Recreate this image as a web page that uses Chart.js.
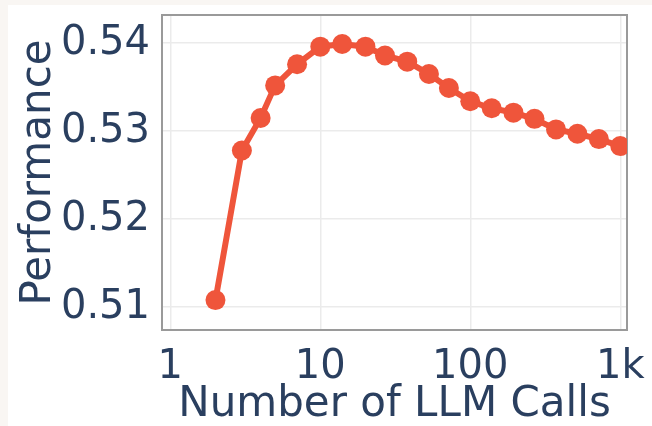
<!DOCTYPE html>
<html>
<head>
<meta charset="utf-8">
<script src="https://cdn.jsdelivr.net/npm/chart.js@4"></script>
<style>
  html, body { margin: 0; padding: 0; background: #f9f6f3; }
  #box { position: absolute; left: 8px; top: 5px; width: 644px; height: 421px; background: #fff; }
</style>
</head>
<body>
<div id="box"><canvas id="chart" width="644" height="421"></canvas></div>
<script>
// Data
const llmCalls = [2, 3, 4, 5, 7, 10, 14, 20, 27, 38, 53, 72, 100, 139, 194, 268, 373, 518, 720, 1000];
const performance = [0.5108, 0.5278, 0.5315, 0.5352, 0.5376, 0.5396, 0.5399, 0.5396, 0.5386, 0.5379,
  0.5365, 0.5349, 0.5334, 0.5326, 0.5321, 0.5314, 0.5302, 0.5297, 0.5291, 0.5283];
const xTicks = [1, 10, 100, 1000];
const xTickLabels = ['1', '10', '100', '1k'];
const yTicks = [0.51, 0.52, 0.53, 0.54];

const textColor = '#2a3f5f';
const fontFamily = '"DejaVu Sans", Verdana, sans-serif';

// Frame around the plot area
const framePlugin = {
  id: 'frame',
  beforeDatasetsDraw(chart) {
    const a = chart.chartArea;
    const c = chart.ctx;
    c.save();
    c.strokeStyle = '#9a9a9a';
    c.lineWidth = 2;
    c.strokeRect(a.left, a.top, a.right - a.left, a.bottom - a.top);
    c.restore();
  }
};

const ctx = document.getElementById('chart').getContext('2d');
const chart = new Chart(ctx, {
  type: 'line',
  data: {
    datasets: [{
      data: llmCalls.map((x, i) => ({ x: x, y: performance[i] })),
      borderColor: '#ef553b',
      backgroundColor: '#ef553b',
      borderWidth: 6,
      pointRadius: 10,
      pointHoverRadius: 10,
      pointBorderWidth: 0,
      tension: 0
    }]
  },
  options: {
    responsive: false,
    animation: false,
    layout: { padding: { left: 0, right: 25, top: 5, bottom: 0 } },
    plugins: { legend: { display: false }, tooltip: { enabled: false } },
    scales: {
      x: {
        type: 'logarithmic',
        min: 0.88,
        max: 1109,
        afterBuildTicks: (scale) => { scale.ticks = xTicks.map(v => ({ value: v })); },
        afterFit: (scale) => {
          scale.height = 96;
          scale.paddingLeft = 0;
          scale.paddingRight = 0;
        },
        ticks: {
          callback: (v) => xTickLabels[xTicks.indexOf(v)],
          color: textColor,
          font: { family: fontFamily, size: 40, lineHeight: 1.2 },
          padding: 14,
          maxRotation: 0,
          autoSkip: false
        },
        grid: { color: '#ebebeb', lineWidth: 1.5, drawTicks: false },
        border: { display: false },
        title: {
          display: true,
          text: 'Number of LLM Calls',
          color: textColor,
          font: { family: fontFamily, size: 42, lineHeight: 1 },
          padding: { top: 0, bottom: 0 }
        }
      },
      y: {
        min: 0.5074,
        max: 0.5432,
        afterBuildTicks: (scale) => { scale.ticks = yTicks.map(v => ({ value: v })); },
        afterFit: (scale) => {
          scale.width = 154;
          scale.paddingTop = 0;
          scale.paddingBottom = 0;
        },
        ticks: {
          callback: (v) => v.toFixed(2),
          color: textColor,
          font: { family: fontFamily, size: 40 },
          padding: 12
        },
        grid: { color: '#ebebeb', lineWidth: 1.5, drawTicks: false },
        border: { display: false },
        title: {
          display: true,
          text: 'Performance',
          color: textColor,
          font: { family: fontFamily, size: 42, lineHeight: 1 },
          padding: { top: 10, bottom: 0 }
        }
      }
    }
  },
  plugins: [framePlugin]
});
</script>
</body>
</html>
